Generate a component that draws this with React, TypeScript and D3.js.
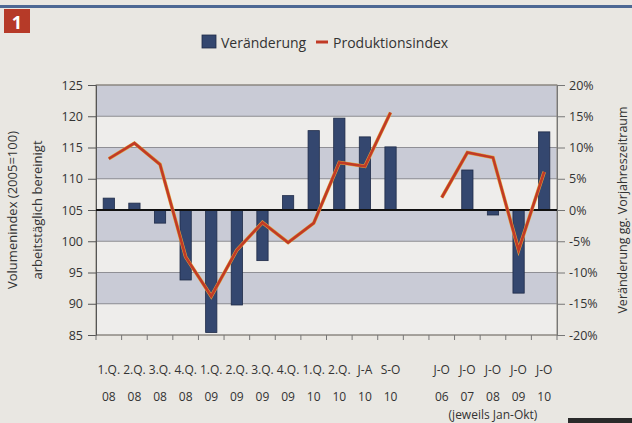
import { useEffect, useRef } from 'react';
import * as d3 from 'd3';

// category labels (empty slot separates the two groups)
const quarterLabels = ['1.Q.', '2.Q.', '3.Q.', '4.Q.', '1.Q.', '2.Q.', '3.Q.', '4.Q.', '1.Q.', '2.Q.', 'J-A', 'S-O', '', 'J-O', 'J-O', 'J-O', 'J-O', 'J-O'];
const yearLabels = ['08', '08', '08', '08', '09', '09', '09', '09', '10', '10', '10', '10', '', '06', '07', '08', '09', '10'];

// Veränderung gg. Vorjahreszeitraum in %
const veraenderung: (number | null)[] = [1.9, 1.1, -2.1, -11.2, -19.6, -15.2, -8.1, 2.3, 12.7, 14.7, 11.7, 10.1, null, null, 6.4, -0.8, -13.3, 12.5];
// Produktionsindex (2005=100)
const produktionsindex: (number | null)[] = [113.2, 115.7, 112.3, 97.5, 91.2, 98.6, 103.0, 99.8, 102.9, 112.6, 112.0, 120.6, null, 107.0, 114.2, 113.4, 98.6, 111.1];

const leftTicks = [85, 90, 95, 100, 105, 110, 115, 120, 125];
const rightTicks = [-20, -15, -10, -5, 0, 5, 10, 15, 20];

const W = 632;
const H = 423;
const font = '"Open Sans", "DejaVu Sans", sans-serif';

export default function App() {
  const ref = useRef<SVGSVGElement>(null);

  useEffect(() => {
    const svg = d3.select(ref.current);
    svg.selectAll('*').remove();

    const plot = { left: 96, right: 557, top: 85, bottom: 335 };
    const keys = quarterLabels.map((_, i) => String(i));

    const x = d3.scaleBand().domain(keys).range([plot.left, plot.right]).padding(0);
    const yL = d3.scaleLinear().domain([85, 125]).range([plot.bottom, plot.top]);
    const yR = d3.scaleLinear().domain([-20, 20]).range([plot.bottom, plot.top]);

    // page background, header rule, badge
    svg.append('rect').attr('width', W).attr('height', H).attr('fill', '#e9e7e2');
    svg.append('rect').attr('x', 0).attr('y', 5).attr('width', W).attr('height', 3).attr('fill', '#4d6894');
    svg.append('rect').attr('x', 4).attr('y', 9).attr('width', 26).attr('height', 24).attr('fill', '#b63a28');
    svg.append('text').attr('x', 17).attr('y', 29).attr('text-anchor', 'middle')
      .attr('fill', '#fff').style('font', `bold 18px ${font}`).text('1');
    svg.append('rect').attr('x', 568).attr('y', 418).attr('width', 64).attr('height', 5).attr('fill', '#2a2a2a');

    // alternating bands
    const bands = d3.range(85, 125, 5);
    svg.append('g').selectAll('rect').data(bands).enter().append('rect')
      .attr('x', plot.left).attr('width', plot.right - plot.left)
      .attr('y', d => yL(d + 5)).attr('height', d => yL(d) - yL(d + 5))
      .attr('fill', d => ((d - 85) / 5) % 2 === 1 ? '#c9cbd6' : '#eeedeb');

    svg.append('g').selectAll('line').data(leftTicks).enter().append('line')
      .attr('x1', plot.left).attr('x2', plot.right)
      .attr('y1', d => yL(d)).attr('y2', d => yL(d))
      .attr('stroke', '#7a7a80').attr('stroke-width', 0.8);

    svg.append('rect').attr('x', plot.left).attr('y', plot.top)
      .attr('width', plot.right - plot.left).attr('height', plot.bottom - plot.top)
      .attr('fill', 'none').attr('stroke', '#8a8478').attr('stroke-width', 1);

    // left axis
    const gL = svg.append('g').attr('transform', `translate(${plot.left},0)`);
    gL.call(d3.axisLeft(yL).tickValues(d3.range(85, 126, 1)).tickSize(4).tickFormat(() => ''));
    gL.call(d3.axisLeft(yL).tickValues(leftTicks).tickSize(8).tickPadding(5).tickFormat(d => String(d)));
    gL.selectAll('.domain').attr('stroke', '#555');
    gL.selectAll('line').attr('stroke', '#555');
    gL.selectAll('text').style('font', `12.5px ${font}`).attr('fill', '#333');

    // right axis
    const gR = svg.append('g').attr('transform', `translate(${plot.right},0)`);
    gR.call(d3.axisRight(yR).tickValues(d3.range(-20, 21, 1)).tickSize(4).tickFormat(() => ''));
    gR.call(d3.axisRight(yR).tickValues(rightTicks).tickSize(8).tickPadding(4).tickFormat(d => `${d}%`));
    gR.selectAll('.domain').attr('stroke', '#777');
    gR.selectAll('line').attr('stroke', '#777');
    gR.selectAll('text').style('font', `12.5px ${font}`).attr('fill', '#333');

    // bottom ticks at band boundaries
    const bounds = keys.map(k => x(k) as number).concat([plot.right]);
    svg.append('g').selectAll('line').data(bounds).enter().append('line')
      .attr('x1', d => d).attr('x2', d => d).attr('y1', plot.bottom).attr('y2', plot.bottom + 5)
      .attr('stroke', '#777');

    // bars (right axis, %)
    const bw = x.bandwidth() * 0.44;
    svg.append('g').selectAll('rect')
      .data(veraenderung.map((v, i) => ({ v, k: keys[i] })).filter(d => d.v !== null))
      .enter().append('rect')
      .attr('x', d => (x(d.k) as number) + (x.bandwidth() - bw) / 2)
      .attr('width', bw)
      .attr('y', d => yR(Math.max(0, d.v as number)))
      .attr('height', d => Math.abs(yR(d.v as number) - yR(0)))
      .attr('fill', '#34476f').attr('stroke', '#1f2b48').attr('stroke-width', 0.8);

    // zero line
    svg.append('line').attr('x1', plot.left).attr('x2', plot.right)
      .attr('y1', yR(0)).attr('y2', yR(0)).attr('stroke', '#111').attr('stroke-width', 2);

    // index line (left axis)
    const line = d3.line<number | null>()
      .defined(d => d !== null)
      .x((_, i) => (x(keys[i]) as number) + x.bandwidth() / 2)
      .y(d => yL(d as number));
    svg.append('path').datum(produktionsindex).attr('d', line)
      .attr('fill', 'none').attr('stroke', '#e0a23c').attr('stroke-width', 3.6);
    svg.append('path').datum(produktionsindex).attr('d', line)
      .attr('fill', 'none').attr('stroke', '#c13a26').attr('stroke-width', 2.6);

    // x labels
    const xl = svg.append('g').style('font', `12px ${font}`).attr('fill', '#333').attr('text-anchor', 'middle');
    xl.selectAll('text.q').data(quarterLabels).enter().append('text').attr('class', 'q')
      .attr('x', (_, i) => (x(keys[i]) as number) + x.bandwidth() / 2).attr('y', 374).text(d => d);
    xl.selectAll('text.y').data(yearLabels).enter().append('text').attr('class', 'y')
      .attr('x', (_, i) => (x(keys[i]) as number) + x.bandwidth() / 2).attr('y', 401).text(d => d);
    xl.append('text').attr('x', (x('15') as number) + x.bandwidth() / 2).attr('y', 419).text('(jeweils Jan-Okt)');

    // axis titles
    const mid = (plot.top + plot.bottom) / 2;
    svg.append('text').attr('transform', `translate(17,${mid}) rotate(-90)`).attr('text-anchor', 'middle')
      .style('font', `13px ${font}`).attr('fill', '#333').text('Volumenindex (2005=100)');
    svg.append('text').attr('transform', `translate(42,${mid}) rotate(-90)`).attr('text-anchor', 'middle')
      .style('font', `13px ${font}`).attr('fill', '#333').text('arbeitstäglich bereinigt');
    svg.append('text').attr('transform', `translate(627,${mid}) rotate(-90)`).attr('text-anchor', 'middle')
      .style('font', `12.5px ${font}`).attr('fill', '#333').text('Veränderung gg. Vorjahreszeitraum');

    // legend
    const lg = svg.append('g');
    lg.append('rect').attr('x', 202).attr('y', 35).attr('width', 14).attr('height', 13)
      .attr('fill', '#34476f').attr('stroke', '#1f2b48').attr('stroke-width', 0.8);
    lg.append('text').attr('x', 221).attr('y', 48).style('font', `14px ${font}`).attr('fill', '#333').text('Veränderung');
    lg.append('line').attr('x1', 316).attr('x2', 328).attr('y1', 42).attr('y2', 42)
      .attr('stroke', '#c13a26').attr('stroke-width', 3);
    lg.append('text').attr('x', 333).attr('y', 48).style('font', `14px ${font}`).attr('fill', '#333').text('Produktionsindex');
  }, []);

  return (
    <svg ref={ref} width={W} height={H} style={{ position: 'fixed', left: 0, top: 0 }} />
  );
}
